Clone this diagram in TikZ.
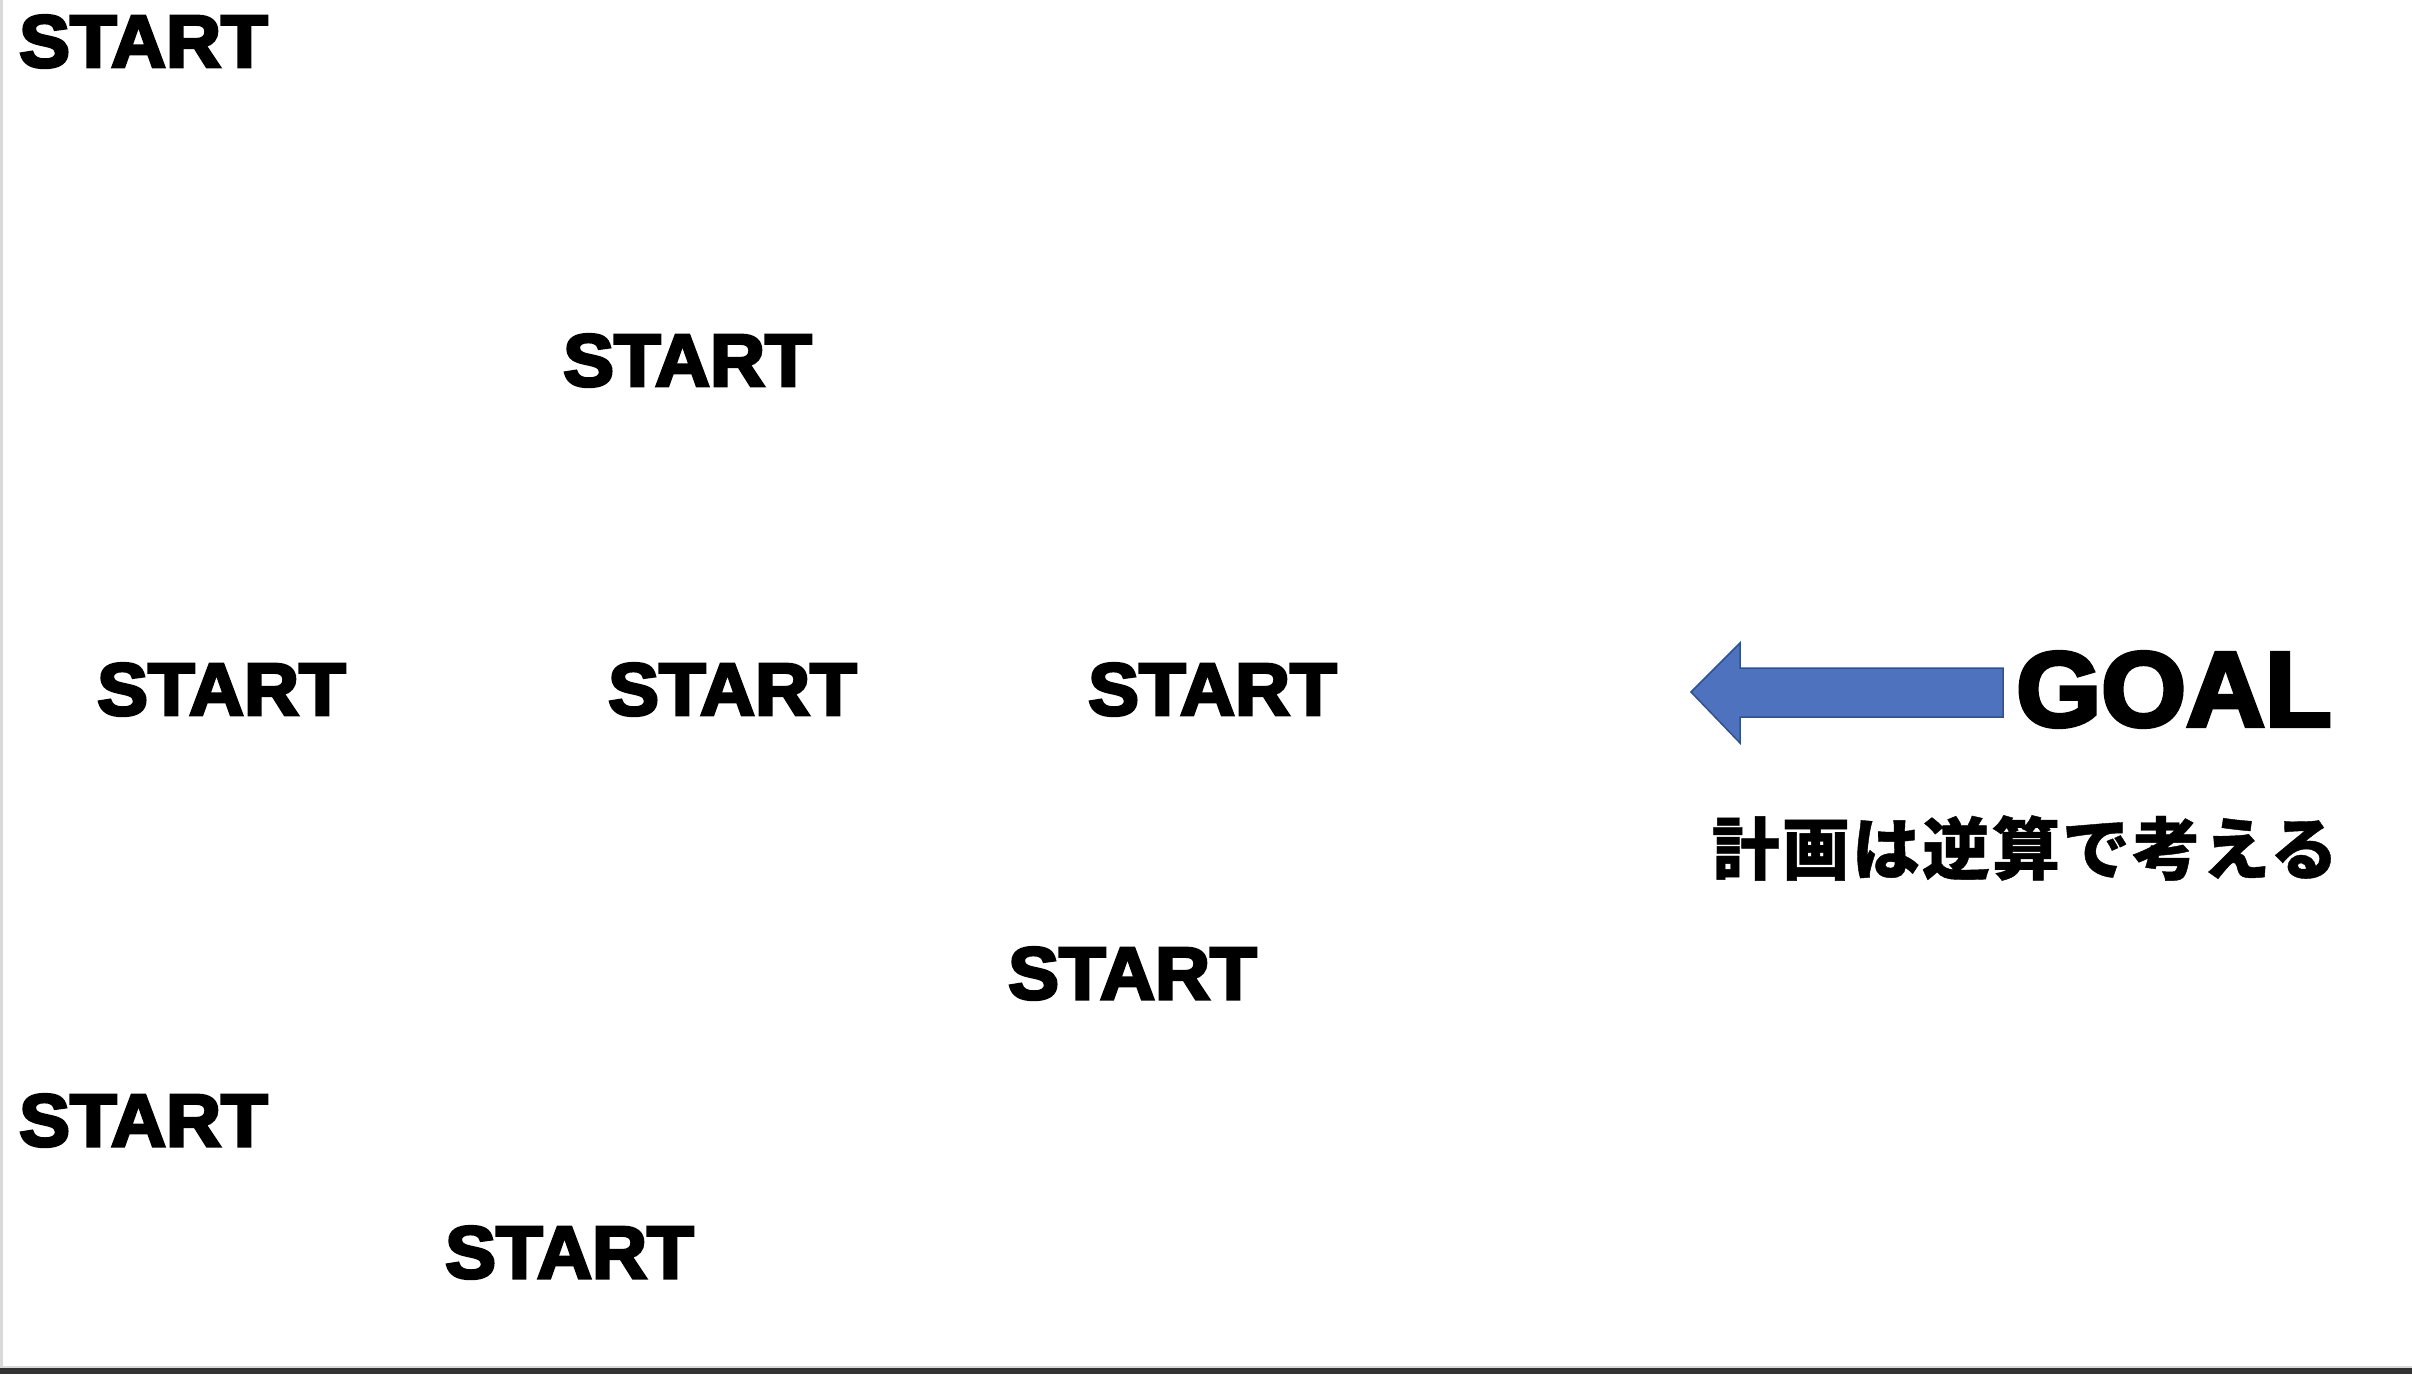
\documentclass[tikz,border=0pt]{standalone}
\usepackage{fontspec}
\setmainfont{Liberation Sans}[BoldFeatures={FakeBold=4,FakeStretch=1.03}]
\newfontfamily\cjk{Noto Sans CJK JP}[BoldFeatures={FakeBold=0.6}]
\definecolor{arrowfill}{RGB}{79,114,190}
\definecolor{arrowline}{RGB}{47,82,143}
\definecolor{edgegray}{RGB}{217,217,217}
\definecolor{bardark}{RGB}{51,51,51}
\tikzset{
  startlabel/.style={anchor=base west, inner sep=0pt, font=\fontsize{74}{74}\selectfont\bfseries},
  goallabel/.style={anchor=base west, inner sep=0pt, font=\fontsize{106}{106}\selectfont\bfseries},
  jplabel/.style={anchor=center, inner sep=0pt, font=\fontsize{68}{68}\selectfont\cjk\bfseries\addfontfeature{LetterSpace=3}},
  bigarrow/.style={fill=arrowfill, draw=arrowline, line width=1.5pt, line join=miter}
}
\begin{document}
\begin{tikzpicture}[x=1pt,y=-1pt]
\useasboundingbox (0,0) rectangle (2412,1374);
\fill[white] (0,0) rectangle (2412,1374);
\fill[edgegray] (0,0) rectangle (2.5,1366);
\fill[edgegray] (0,1365.5) rectangle (2412,1368);
\fill[bardark] (0,1368) rectangle (2412,1374);

\node[startlabel] (s1) at (19,67) {START};
\node[startlabel] (s2) at (563,386) {START};
\node[startlabel] (s3) at (97,715) {START};
\node[startlabel] (s4) at (608,715) {START};
\node[startlabel] (s5) at (1088,715) {START};
\node[startlabel] (s6) at (1008,999) {START};
\node[startlabel] (s7) at (19,1146) {START};
\node[startlabel] (s8) at (445,1278) {START};

\node[goallabel] (goal) at (2016,726) {GOAL};
\node[jplabel] (plan) at (2025,848) {計画は逆算で考える};

\draw[bigarrow] (1691,692) -- (1740,643) -- (1740,668) -- (2003,668)
  -- (2003,717) -- (1740,717) -- (1740,743) -- cycle;
\end{tikzpicture}
\end{document}
